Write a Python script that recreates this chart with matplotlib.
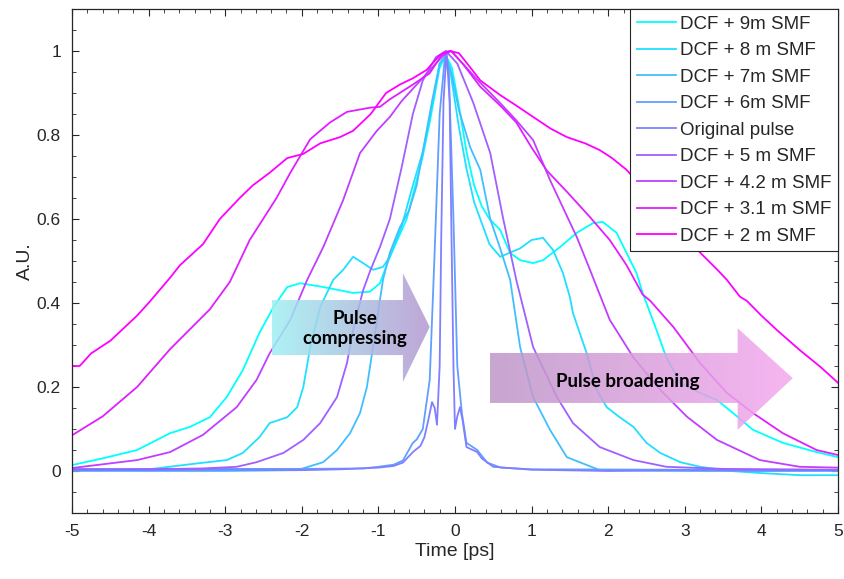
import numpy as np
import matplotlib
matplotlib.use('Agg')
import matplotlib.pyplot as plt
from matplotlib.patches import Polygon
from matplotlib.colors import LinearSegmentedColormap
from matplotlib.ticker import MultipleLocator, FuncFormatter

plt.rcParams['font.family'] = ['Liberation Sans', 'DejaVu Sans']
plt.rcParams['axes.unicode_minus'] = False

# ---- data (time in ps, amplitude in A.U.) ----
labels = ['DCF + 9m SMF', 'DCF + 8 m SMF', 'DCF + 7m SMF', 'DCF + 6m SMF',
          'Original pulse', 'DCF + 5 m SMF', 'DCF + 4.2 m SMF',
          'DCF + 3.1 m SMF', 'DCF + 2 m SMF']

t_9m = [-5.0, -4.6, -4.15, -3.72, -3.46, -3.2, -2.98, -2.77, -2.55, -2.37, -2.19,
        -2.02, -1.72, -1.33, -1.11, -0.98, -0.85, -0.63, -0.42, -0.33, -0.2, -0.12,
        -0.04, 0.06, 0.15, 0.25, 0.35, 0.45, 0.59, 0.72, 0.85, 1.02, 1.15, 1.37,
        1.59, 1.8, 1.93, 2.11, 2.24, 2.37, 2.45, 2.63, 2.76, 2.94, 3.2, 3.42, 3.63,
        3.89, 4.28, 4.72, 5.0]
a_9m = [0.014, 0.03, 0.05, 0.09, 0.105, 0.128, 0.176, 0.24, 0.33, 0.39, 0.438,
        0.447, 0.438, 0.424, 0.427, 0.447, 0.51, 0.6, 0.75, 0.83, 0.96, 0.99,
        0.96, 0.86, 0.76, 0.68, 0.63, 0.6, 0.574, 0.519, 0.502, 0.495, 0.502, 0.533,
        0.567, 0.59, 0.593, 0.567, 0.519, 0.471, 0.424, 0.336, 0.27, 0.21, 0.186,
        0.169, 0.138, 0.098, 0.067, 0.045, 0.033]

t_8m = [-5.0, -4.0, -3.37, -2.98, -2.77, -2.55, -2.42, -2.19, -2.06, -1.98, -1.89,
        -1.76, -1.59, -1.46, -1.33, -1.2, -1.07, -0.94, -0.85, -0.7, -0.55, -0.42,
        -0.33, -0.2, -0.12, -0.06, 0.05, 0.15, 0.25, 0.33, 0.45, 0.59, 0.72, 0.85,
        1.0, 1.15, 1.28, 1.41, 1.5, 1.54, 1.72, 1.85, 1.98, 2.15, 2.33, 2.5, 2.68,
        2.94, 3.2, 3.6, 4.0, 4.5, 5.0]
a_8m = [0.003, 0.004, 0.018, 0.026, 0.043, 0.081, 0.114, 0.128, 0.152, 0.2, 0.295,
        0.39, 0.455, 0.479, 0.51, 0.495, 0.479, 0.486, 0.51, 0.58, 0.68, 0.76,
        0.84, 0.97, 0.99, 0.95, 0.82, 0.72, 0.64, 0.6, 0.54, 0.51, 0.52, 0.53,
        0.55, 0.555, 0.526, 0.471, 0.414, 0.376, 0.28, 0.193, 0.152, 0.128, 0.105,
        0.067, 0.043, 0.021, 0.01, 0.0, -0.005, -0.01, -0.01]

t_7m = [-5.0, -3.0, -2.06, -1.72, -1.54, -1.37, -1.24, -1.15, -1.07, -0.98, -0.94,
        -0.85, -0.72, -0.6, -0.5, -0.4, -0.3, -0.2, -0.12, -0.05, 0.05, 0.15, 0.2,
        0.33, 0.46, 0.59, 0.72, 0.85, 1.02, 1.24, 1.46, 1.89, 3.0, 5.0]
a_7m = [0.0, 0.0, 0.002, 0.021, 0.05, 0.09, 0.138, 0.2, 0.295, 0.407, 0.455,
        0.52, 0.58, 0.62, 0.68, 0.78, 0.88, 0.97, 0.99, 0.95, 0.86, 0.8, 0.77,
        0.717, 0.6, 0.53, 0.455, 0.295, 0.176, 0.098, 0.033, 0.002, 0.0, 0.0]

t_6m = [-5.0, -2.0, -1.2, -1.0, -0.8, -0.68, -0.55, -0.5, -0.42, -0.33, -0.27,
        -0.2, -0.13, -0.08, -0.02, 0.03, 0.09, 0.15, 0.29, 0.42, 0.6, 1.0, 5.0]
a_6m = [0.005, 0.005, 0.006, 0.01, 0.015, 0.025, 0.067, 0.075, 0.1, 0.217, 0.5,
        0.85, 0.99, 0.95, 0.6, 0.25, 0.138, 0.067, 0.05, 0.02, 0.008, 0.004, 0.002]

t_orig = [-5.0, -4.0, -3.0, -2.0, -1.5, -1.0, -0.8, -0.68, -0.55, -0.45, -0.4,
          -0.35, -0.3, -0.265, -0.235, -0.2, -0.18, -0.15, -0.11, -0.07, -0.045,
          -0.02, 0.0, 0.03, 0.065, 0.1, 0.15, 0.29, 0.35, 0.5, 1.0, 2.0, 3.0, 4.0, 5.0]
a_orig = [0.003, 0.002, 0.003, 0.002, 0.004, 0.008, 0.012, 0.02, 0.045, 0.06, 0.08,
          0.12, 0.164, 0.15, 0.11, 0.25, 0.55, 0.88, 1.0, 0.88, 0.55,
          0.25, 0.1, 0.13, 0.152, 0.12, 0.057, 0.045, 0.03, 0.01, 0.003, 0.0, 0.002,
          0.001, 0.002]

t_5m = [-5.0, -4.0, -3.3, -2.85, -2.59, -2.24, -1.98, -1.76, -1.54, -1.41, -1.33,
        -1.2, -1.1, -0.98, -0.85, -0.7, -0.55, -0.42, -0.25, -0.12, 0.03, 0.24,
        0.46, 0.63, 0.8, 1.02, 1.33, 1.54, 1.89, 2.33, 2.76, 3.5, 5.0]
a_5m = [0.003, 0.004, 0.006, 0.01, 0.021, 0.043, 0.074, 0.114, 0.176, 0.257, 0.336,
        0.43, 0.48, 0.533, 0.6, 0.72, 0.85, 0.93, 0.985, 1.0, 0.97, 0.876,
        0.757, 0.6, 0.455, 0.295, 0.176, 0.114, 0.057, 0.026, 0.01, 0.005, 0.003]

t_4m2 = [-5.0, -4.15, -3.72, -3.29, -2.85, -2.59, -2.42, -2.15, -1.93, -1.72, -1.46,
         -1.24, -1.02, -0.85, -0.7, -0.5, -0.3, -0.15, -0.05, 0.1, 0.3, 0.59, 0.8,
         1.02, 1.24, 1.59, 1.76, 2.02, 2.33, 2.68, 3.03, 3.42, 3.98, 4.5, 5.0]
a_4m2 = [0.007, 0.026, 0.045, 0.086, 0.152, 0.217, 0.28, 0.36, 0.455, 0.533, 0.645,
         0.757, 0.81, 0.843, 0.88, 0.92, 0.96, 0.99, 1.0, 0.97, 0.93, 0.876, 0.835,
         0.788, 0.693, 0.557, 0.48, 0.36, 0.27, 0.193, 0.129, 0.074, 0.026, 0.01, 0.008]

t_3m1 = [-5.0, -4.6, -4.15, -3.72, -3.2, -2.94, -2.68, -2.33, -2.15, -1.89, -1.63,
         -1.41, -1.11, -0.98, -0.85, -0.55, -0.33, -0.16, -0.05, 0.1, 0.33, 0.59,
         0.8, 1.0, 1.2, 1.46, 1.76, 2.02, 2.24, 2.45, 2.55, 2.85, 3.2, 3.55, 3.89,
         4.28, 4.72, 5.0]
a_3m1 = [0.085, 0.13, 0.2, 0.29, 0.385, 0.45, 0.55, 0.65, 0.71, 0.79, 0.83,
         0.855, 0.865, 0.867, 0.885, 0.92, 0.947, 0.995, 1.0, 0.97, 0.915, 0.87,
         0.83, 0.77, 0.715, 0.665, 0.605, 0.55, 0.49, 0.42, 0.405, 0.343, 0.257,
         0.186, 0.138, 0.09, 0.05, 0.038]

t_2m = [-5.0, -4.9, -4.75, -4.5, -4.15, -4.0, -3.72, -3.59, -3.29, -3.07, -2.81,
        -2.64, -2.42, -2.19, -1.98, -1.76, -1.5, -1.33, -1.1, -0.9, -0.72, -0.55,
        -0.37, -0.2, -0.07, 0.05, 0.16, 0.33, 0.59, 0.8, 1.02, 1.25, 1.46, 1.7,
        1.89, 2.05, 2.24, 2.5, 2.8, 3.0, 3.2, 3.42, 3.55, 3.72, 3.81, 4.0, 4.2,
        4.5, 4.77, 5.0]
a_2m = [0.25, 0.25, 0.28, 0.31, 0.37, 0.40, 0.46, 0.49, 0.54, 0.60, 0.65,
        0.68, 0.71, 0.745, 0.755, 0.78, 0.795, 0.81, 0.85, 0.90, 0.92, 0.935,
        0.955, 0.99, 1.0, 0.995, 0.97, 0.93, 0.895, 0.87, 0.843, 0.815, 0.795, 0.78,
        0.764, 0.745, 0.717, 0.665, 0.6, 0.56, 0.52, 0.48, 0.455, 0.415, 0.405,
        0.37, 0.336, 0.288, 0.248, 0.21]

times = [t_9m, t_8m, t_7m, t_6m, t_orig, t_5m, t_4m2, t_3m1, t_2m]
amps = [a_9m, a_8m, a_7m, a_6m, a_orig, a_5m, a_4m2, a_3m1, a_2m]

# 'cool' style ramp from cyan to magenta
colors = [plt.cm.cool(i / 8) for i in range(9)]


def gradient_arrow(ax, verts, c0, c1, alpha):
    """Fill a polygon with a left-to-right colour gradient."""
    poly = Polygon(verts, closed=True, facecolor='none', edgecolor='none')
    ax.add_patch(poly)
    xs = [v[0] for v in verts]
    ys = [v[1] for v in verts]
    cmap = LinearSegmentedColormap.from_list('grad', [c0, c1])
    grad = np.linspace(0, 1, 256).reshape(1, -1)
    im = ax.imshow(grad, cmap=cmap, extent=[min(xs), max(xs), min(ys), max(ys)],
                   aspect='auto', alpha=alpha, zorder=5, interpolation='bilinear')
    im.set_clip_path(poly)


fig = plt.figure(figsize=(8.45, 5.79), dpi=100)
ax = fig.add_axes([0.0852, 0.114, 0.9065, 0.8705])

for t, a, c, lab in zip(times, amps, colors, labels):
    ax.plot(t, a, color=c, lw=1.3, label=lab)

# annotation arrows
gradient_arrow(ax, [(-2.39, 0.276), (-0.68, 0.276), (-0.68, 0.212), (-0.33, 0.343),
                    (-0.68, 0.471), (-0.68, 0.407), (-2.39, 0.407)],
               '#9ff0f3', '#b596d0', 0.85)
gradient_arrow(ax, [(0.457, 0.162), (3.69, 0.162), (3.69, 0.098), (4.41, 0.221),
                    (3.69, 0.340), (3.69, 0.281), (0.457, 0.281)],
               '#bd96c8', '#f5a8ef', 0.85)
ax.text(-1.31, 0.34, 'Pulse\ncompressing', ha='center', va='center',
        fontsize=13.5, fontweight='bold', family='Lato', linespacing=1.2, zorder=6)
ax.text(2.26, 0.212, 'Pulse broadening', ha='center', va='center',
        fontsize=13.5, fontweight='bold', family='Lato', zorder=6)

ax.set_xlim(-5, 5)
ax.set_ylim(-0.1, 1.1)
ax.xaxis.set_major_locator(MultipleLocator(1))
ax.xaxis.set_minor_locator(MultipleLocator(0.2))
ax.yaxis.set_major_locator(MultipleLocator(0.2))
ax.yaxis.set_minor_locator(MultipleLocator(0.05))
ax.yaxis.set_major_formatter(FuncFormatter(lambda v, p: '%g' % round(v, 2)))
ax.xaxis.set_major_formatter(FuncFormatter(lambda v, p: '%g' % round(v, 2)))
ax.tick_params(which='both', direction='in', top=True, right=True,
               color='#262626', labelcolor='#262626', labelsize=12.5)
ax.tick_params(which='major', length=5, width=0.8, pad=8)
ax.tick_params(which='minor', length=3, width=0.6)
for sp in ax.spines.values():
    sp.set_color('#262626')
    sp.set_linewidth(0.9)

ax.set_xlabel('Time [ps]', fontsize=14, color='#262626', labelpad=3)
ax.set_ylabel('A.U.', fontsize=14, color='#262626', labelpad=2)

leg = ax.legend(loc='upper right', bbox_to_anchor=(1.0, 1.0), borderaxespad=0,
                fontsize=13.5, handlelength=2.1, handletextpad=0.2,
                labelspacing=0.5, borderpad=0.35, fancybox=False, framealpha=1)
leg.get_frame().set_edgecolor('#262626')
leg.get_frame().set_linewidth(0.8)
for txt in leg.get_texts():
    txt.set_color('#262626')

fig.savefig('out.png', dpi=100)
